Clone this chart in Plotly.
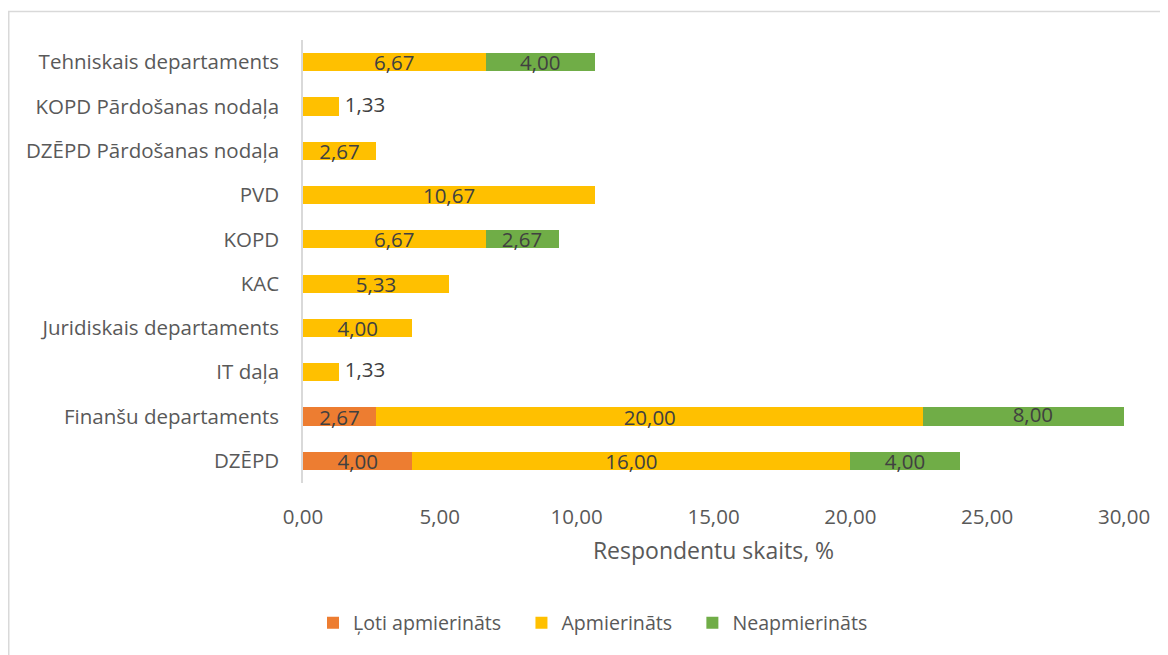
import plotly.graph_objects as go

categories = ["DZĒPD", "Finanšu departaments", "IT daļa", "Juridiskais departaments", "KAC",
              "KOPD", "PVD", "DZĒPD Pārdošanas nodaļa", "KOPD Pārdošanas nodaļa", "Tehniskais departaments"]
loti_apmierinats = [4.00, 2.67, 0, 0, 0, 0, 0, 0, 0, 0]
apmierinats = [16.00, 20.00, 1.33, 4.00, 5.33, 6.67, 10.67, 2.67, 1.33, 6.67]
neapmierinats = [4.00, 8.00, 0, 0, 0, 2.67, 0, 0, 0, 4.00]
x_ticks = [0, 5, 10, 15, 20, 25, 30]
x_max = 30

series = [
    ("Ļoti apmierināts", loti_apmierinats, "#ED7D31"),
    ("Apmierināts", apmierinats, "#FFC000"),
    ("Neapmierināts", neapmierinats, "#70AD47"),
]

FONT = "Open Sans"
FS = 20.5
LABEL_COLOR = "#404040"
PAD = "\u00a0\u00a0\u00a0"   # extra spacing between legend entries
fig = go.Figure()

extra_x, extra_y, extra_t = [], [], []          # labels centred on bar (clipped bars)
right_x, right_y, right_t = [], [], []          # labels to the right of tiny bars
base = [0.0] * len(categories)
for k, (name, vals, color) in enumerate(series):
    xs = [v if v else None for v in vals]
    pos = []
    for i, v in enumerate(vals):
        if not v:
            pos.append("none")
        elif v < 2:
            pos.append("none")
            right_x.append(base[i] + v); right_y.append(categories[i]); right_t.append(f"{v:.2f}".replace(".", ","))
        elif base[i] + v > x_max:
            pos.append("none")
            extra_x.append(base[i] + v / 2); extra_y.append(categories[i]); extra_t.append(f"{v:.2f}".replace(".", ","))
        else:
            pos.append("inside")
        base[i] += v
    fig.add_trace(go.Bar(
        y=categories, x=xs, name=name + (PAD if k < len(series) - 1 else ""), orientation="h",
        marker=dict(color=color, line=dict(width=0)),
        texttemplate="%{x:.2f}", textposition=pos, insidetextanchor="middle",
        textfont=dict(family=FONT, size=FS, color=LABEL_COLOR),
        constraintext="none", hovertemplate=name + ": %{x:.2f}<extra></extra>",
    ))

fig.add_trace(go.Scatter(
    y=extra_y, x=extra_x, mode="text", text=extra_t, textposition="middle center",
    textfont=dict(family=FONT, size=FS, color=LABEL_COLOR),
    showlegend=False, hoverinfo="skip", cliponaxis=False,
))
fig.add_trace(go.Scatter(
    y=right_y, x=right_x, mode="text", text=[" " + t for t in right_t], textposition="middle right",
    textfont=dict(family=FONT, size=FS, color=LABEL_COLOR),
    showlegend=False, hoverinfo="skip", cliponaxis=False,
))

# figure coordinates (page has an 8px body margin)
W, H = 1160, 647
L, R, T, B = 295, 1116, 32, 475
pw, ph = R - L, B - T

def px_x(p):
    return (p - L) / pw

def px_y(p):
    return (B - p) / ph

fig.update_layout(
    width=W, height=H, barmode="stack", bargap=0.59,
    separators=", ",
    margin=dict(l=L, r=W - R, t=T, b=H - B, pad=0),
    plot_bgcolor="white", paper_bgcolor="white",
    font=dict(family=FONT, size=FS, color="#595959"),
    xaxis=dict(range=[0, x_max], tickvals=x_ticks, tickformat=".2f", showgrid=False,
               zeroline=False, showline=False, ticks="", ticklabelstandoff=19,
               tickfont=dict(size=FS, color="#595959"),
               title=dict(text="Respondentu skaits, %", standoff=14,
                          font=dict(size=23, color="#595959"))),
    yaxis=dict(showgrid=False, zeroline=False, showline=True, linecolor="#D9D9D9", linewidth=1.5,
               ticks="", ticklabelstandoff=18, tickfont=dict(size=FS, color="#595959")),
    legend=dict(orientation="h", x=px_x(585), xanchor="center", y=px_y(615), yanchor="middle",
                font=dict(size=19.6, color="#595959"), traceorder="normal",
                itemwidth=30),
    shapes=[dict(type="rect", xref="paper", yref="paper",
                 x0=px_x(0.75), x1=px_x(1175), y0=px_y(665), y1=px_y(3.5),
                 line=dict(color="#D9D9D9", width=1.5), fillcolor="rgba(0,0,0,0)", layer="below")],
)

fig.write_html("out.html")
